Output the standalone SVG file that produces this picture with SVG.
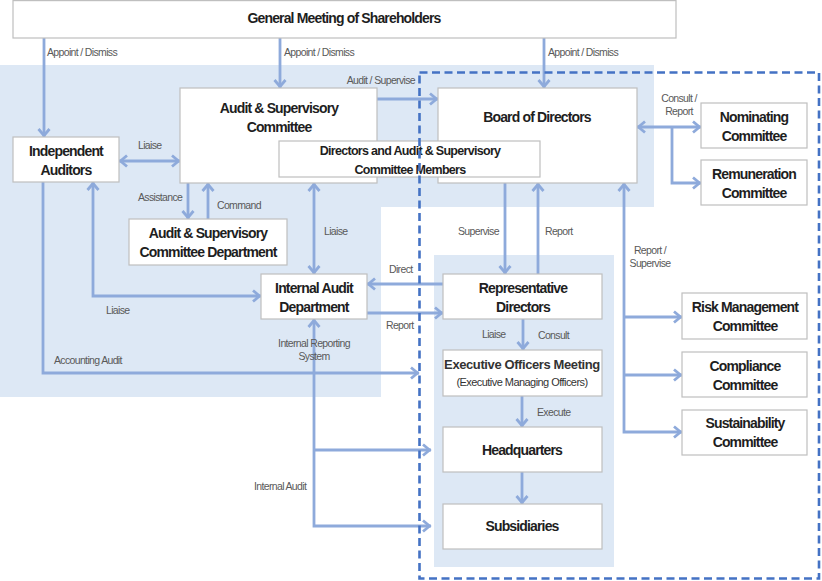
<svg xmlns="http://www.w3.org/2000/svg" width="822" height="581" viewBox="0 0 822 581">
<style>
.n{fill:#fff;stroke:#bfbfbf;stroke-width:1.2}
.t{font-family:"Liberation Sans",Arial,sans-serif;font-weight:bold;font-size:14px;letter-spacing:-0.85px;fill:#1e1e1e;text-anchor:middle}
.l{font-family:"Liberation Sans",Arial,sans-serif;font-size:10.5px;letter-spacing:-0.65px;fill:#595959}
.c{fill:none;stroke:#8eaadb;stroke-width:2.8}
</style>
<defs>
<marker id="a" viewBox="-10 -7 12 14" refX="0" refY="0" markerWidth="12" markerHeight="14" markerUnits="userSpaceOnUse" orient="auto-start-reverse">
<path d="M-8,-5.5 L-1.5,0 L-8,5.5" fill="none" stroke="#8eaadb" stroke-width="2.8"/>
</marker>
</defs>
<rect width="822" height="581" fill="#fff"/>
<polygon points="0,65 654,65 654,207 381,207 381,397 0,397" fill="#dde8f5"/>
<rect x="434" y="255" width="180" height="312" fill="#dde8f5"/>

<g id="connectors">
<path class="c" d="M44,38 V137" marker-end="url(#a)"/>
<path class="c" d="M280,38 V88" marker-end="url(#a)"/>
<path class="c" d="M544,38 V88" marker-end="url(#a)"/>
<path class="c" d="M377,99 H438" marker-end="url(#a)"/>
<path class="c" d="M119,161 H180" marker-start="url(#a)" marker-end="url(#a)"/>
<path class="c" d="M637,127 H701" marker-start="url(#a)" marker-end="url(#a)"/>
<path class="c" d="M672,127 V183 H701" marker-end="url(#a)"/>
<path class="c" d="M188,183 V219" marker-end="url(#a)"/>
<path class="c" d="M208,219 V183" marker-end="url(#a)"/>
<path class="c" d="M314,183 V274" marker-start="url(#a)" marker-end="url(#a)"/>
<path class="c" d="M93,182 V296 H261" marker-start="url(#a)" marker-end="url(#a)"/>
<path class="c" d="M43,182 V373 H419" marker-end="url(#a)"/>
<path class="c" d="M505,183 V274" marker-end="url(#a)"/>
<path class="c" d="M538,274 V183" marker-end="url(#a)"/>
<path class="c" d="M443,284 H367" marker-end="url(#a)"/>
<path class="c" d="M367,313 H443" marker-end="url(#a)"/>
<path class="c" d="M523,319 V350" marker-end="url(#a)"/>
<path class="c" d="M522,396 V427" marker-end="url(#a)"/>
<path class="c" d="M522,472 V504" marker-end="url(#a)"/>
<path class="c" d="M624,183 V432 H682" marker-start="url(#a)" marker-end="url(#a)"/>
<path class="c" d="M624,317 H682" marker-end="url(#a)"/>
<path class="c" d="M624,375 H682" marker-end="url(#a)"/>
<path class="c" d="M314,319 V526 H431" marker-start="url(#a)" marker-end="url(#a)"/>
<path class="c" d="M314,450 H431" marker-end="url(#a)"/>
<text class="l" x="47" y="56">Appoint / Dismiss</text>
<text class="l" x="284" y="56">Appoint / Dismiss</text>
<text class="l" x="548" y="56">Appoint / Dismiss</text>
<text class="l" x="415" y="84" text-anchor="end">Audit / Supervise</text>
<text class="l" x="138" y="149">Liaise</text>
<text class="l" x="679" y="102" text-anchor="middle">Consult /</text>
<text class="l" x="679" y="115" text-anchor="middle">Report</text>
<text class="l" x="138" y="201">Assistance</text>
<text class="l" x="217" y="209">Command</text>
<text class="l" x="324" y="235">Liaise</text>
<text class="l" x="106" y="314">Liaise</text>
<text class="l" x="54" y="364">Accounting Audit</text>
<text class="l" x="389" y="273">Direct</text>
<text class="l" x="386" y="329">Report</text>
<text class="l" x="314" y="347" text-anchor="middle">Internal Reporting</text>
<text class="l" x="314" y="360" text-anchor="middle">System</text>
<text class="l" x="458" y="235">Supervise</text>
<text class="l" x="545" y="235">Report</text>
<text class="l" x="650" y="254" text-anchor="middle">Report /</text>
<text class="l" x="650" y="267" text-anchor="middle">Supervise</text>
<text class="l" x="482" y="338">Liaise</text>
<text class="l" x="538" y="339">Consult</text>
<text class="l" x="537" y="416">Execute</text>
<text class="l" x="254" y="490">Internal Audit</text>
</g>

<g id="gms"><rect class="n" x="13" y="0.6" width="663" height="37.4"/><text class="t" x="344" y="23">General Meeting of Shareholders</text></g>
<g id="indep"><rect class="n" x="13" y="137" width="106" height="45"/><text class="t" x="66" y="156">Independent</text><text class="t" x="66" y="175">Auditors</text></g>
<g id="asc"><rect class="n" x="180" y="88" width="197" height="95"/><text class="t" x="279" y="113">Audit &amp; Supervisory</text><text class="t" x="279" y="132">Committee</text></g>
<g id="board"><rect class="n" x="438" y="88" width="199" height="95"/><text class="t" x="537" y="122">Board of Directors</text></g>
<g id="members"><rect class="n" x="279" y="141" width="261" height="36"/><text class="t" x="410" y="155" style="font-size:12.5px;letter-spacing:-0.7px">Directors and Audit &amp; Supervisory</text><text class="t" x="410" y="174" style="font-size:12.5px;letter-spacing:-0.7px">Committee Members</text></g>
<g id="nominating"><rect class="n" x="701" y="103" width="106" height="45"/><text class="t" x="754" y="122">Nominating</text><text class="t" x="754" y="141">Committee</text></g>
<g id="remuneration"><rect class="n" x="701" y="160" width="106" height="45"/><text class="t" x="754" y="179">Remuneration</text><text class="t" x="754" y="198">Committee</text></g>
<g id="ascdept"><rect class="n" x="129" y="219" width="158" height="46"/><text class="t" x="208" y="238">Audit &amp; Supervisory</text><text class="t" x="208" y="257">Committee Department</text></g>
<g id="iad"><rect class="n" x="261" y="274" width="106" height="45"/><text class="t" x="314" y="293">Internal Audit</text><text class="t" x="314" y="312">Department</text></g>
<g id="repdir"><rect class="n" x="443" y="274" width="159" height="45"/><text class="t" x="523" y="293">Representative</text><text class="t" x="523" y="312">Directors</text></g>
<g id="exec"><rect class="n" x="443" y="350" width="159" height="46"/><text class="t" x="522" y="369" style="font-size:13px;letter-spacing:-0.4px;fill:#333">Executive Officers Meeting</text><text class="t" x="522" y="386" style="font-size:11px;font-weight:normal;letter-spacing:-0.55px;fill:#333">(Executive Managing  Officers)</text></g>
<g id="hq"><rect class="n" x="443" y="427" width="159" height="45"/><text class="t" x="522" y="455">Headquarters</text></g>
<g id="subs"><rect class="n" x="443" y="504" width="159" height="45"/><text class="t" x="522" y="531">Subsidiaries</text></g>
<g id="risk"><rect class="n" x="682" y="293" width="125" height="46"/><text class="t" x="745" y="312">Risk Management</text><text class="t" x="745" y="331">Committee</text></g>
<g id="compliance"><rect class="n" x="682" y="352" width="125" height="45"/><text class="t" x="745" y="371">Compliance</text><text class="t" x="745" y="390">Committee</text></g>
<g id="sustain"><rect class="n" x="682" y="410" width="125" height="45"/><text class="t" x="745" y="428">Sustainability</text><text class="t" x="745" y="447">Committee</text></g>

<rect x="419.5" y="72.5" width="399.5" height="506" fill="none" stroke="#4472c4" stroke-width="2.6" stroke-dasharray="8,4.5"/>
</svg>
